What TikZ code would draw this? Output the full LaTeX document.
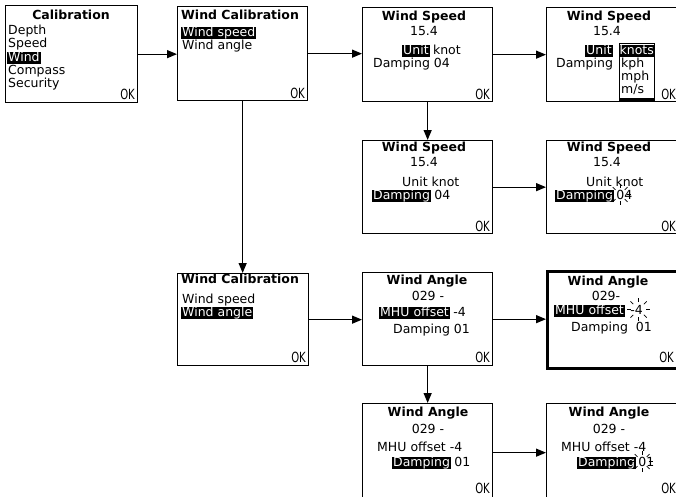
\documentclass[tikz,border=0pt]{standalone}
\usepackage{fontspec}
\setmainfont{DejaVu Sans}
\newfontfamily\okfont{DejaVu Sans}[FakeStretch=0.72]
\usetikzlibrary{arrows.meta}
\newcommand\sparkle[2]{%
  \foreach \a in {0,45,...,315} \draw[ray] (#1) ++(\a:#2) -- ++(\a:4);}
\begin{document}
\begin{tikzpicture}[x=1pt,y=-1pt,
  scr/.style={draw, line width=1.3pt, anchor=north west, inner sep=0pt},
  txt/.style={inner sep=0pt, anchor=base west, font=\fontsize{12.5}{13}\selectfont},
  ctr/.style={inner sep=0pt, anchor=base, font=\fontsize{12.5}{13}\selectfont},
  ttl/.style={inner sep=0pt, anchor=base, font=\fontsize{12.5}{13}\selectfont\bfseries},
  ttlw/.style={ttl, anchor=base west},
  hl/.style={txt, fill=black, text=white, inner xsep=1pt, inner ysep=0pt, text height=9.5pt, text depth=3pt},
  ok/.style={inner sep=0pt, anchor=base east, font=\fontsize{14}{14}\selectfont\okfont},
  arr/.style={line width=1.3pt, -{Triangle[length=10pt,width=8pt]}},
  ray/.style={line width=0.7pt}]
\useasboundingbox (0,0) rectangle (676,496);
\clip (0,0) rectangle (676,496);

% ---------- screens ----------
\node[scr, minimum width=132pt, minimum height=97pt] (b1) at (5,5) {};
\node[scr, minimum width=130pt, minimum height=94pt] (b2) at (177,6) {};
\node[scr, minimum width=130pt, minimum height=94pt] (b3) at (362,7) {};
\node[scr, minimum width=144pt, minimum height=94pt] (b4) at (546,7) {};
\node[scr, minimum width=130pt, minimum height=93pt] (b5) at (362,140) {};
\node[scr, minimum width=144pt, minimum height=93pt] (b6) at (546,140) {};
\node[scr, minimum width=131pt, minimum height=92pt] (b7) at (177,273) {};
\node[scr, minimum width=130pt, minimum height=93pt] (b8) at (362,272) {};
\node[scr, line width=2.5pt, minimum width=144pt, minimum height=97pt] (b9) at (546,270) {};
\node[scr, minimum width=130pt, minimum height=98pt] (b10) at (362,403) {};
\node[scr, minimum width=144pt, minimum height=98pt] (b11) at (546,403) {};

% ---------- box 1 ----------
\node[ttl] (t1) at (71,19) {Calibration};
\node[txt] (l11) at (8,34.5) {Depth};
\node[txt] (l12) at (8,47.5) {Speed};
\node[hl]  (l13) at (7,61) {Wind};
\node[txt] (l14) at (8,74) {Compass};
\node[txt] (l15) at (8,87) {Security};
\node[ok]  (o1) at (135,99) {OK};

% ---------- box 2 ----------
\node[ttlw] (t2) at (181,19) {Wind Calibration};
\node[hl]  (l21) at (181,36) {Wind speed};
\node[txt] (l22) at (182,49.5) {Wind angle};
\node[ok]  (o2) at (305,98) {OK};

% ---------- box 3 ----------
\node[ttl] (t3) at (424,20) {Wind Speed};
\node[ctr] (v3) at (424,35) {15.4};
\node[hl]  (u3) at (402,54) {Unit};
\node[txt] (k3) at ([xshift=3pt]u3.base east) {knot};
\node[txt] (d3) at (373,67) {Damping 04};
\node[ok]  (o3) at (490,99) {OK};

% ---------- box 4 ----------
\node[ttl] (t4) at (609,20) {Wind Speed};
\node[ctr] (v4) at (607,35) {15.4};
\node[hl]  (u4) at (585,54) {Unit};
\node[txt] (d4) at (556,67) {Damping};
\node[draw, line width=1.3pt, anchor=north west, minimum width=35pt, minimum height=55pt, inner sep=0pt] (dd) at (619,43) {};
\draw[line width=2.5pt] (dd.south west) -- (dd.south east);
\node[hl, minimum width=35pt, anchor=base west, inner xsep=0pt] (kn) at (619,54) {knots};
\node[txt] (kp) at (621,67) {kph};
\node[txt] (mp) at (621,80.5) {mph};
\node[txt] (ms) at (621,93.5) {m/s};
\node[ok]  (o4) at (676,99) {OK};

% ---------- box 5 ----------
\node[ttl] (t5) at (424,151) {Wind Speed};
\node[ctr] (v5) at (424,166) {15.4};
\node[txt] (u5) at (402,186) {Unit knot};
\node[hl]  (h5) at (372,199) {Damping};
\node[txt] (d5) at ([xshift=3pt]h5.base east) {04};
\node[ok]  (o5) at (490,231) {OK};

% ---------- box 6 ----------
\node[ttl] (t6) at (609,151) {Wind Speed};
\node[ctr] (v6) at (607,166) {15.4};
\node[txt] (u6) at (586,186) {Unit knot};
\node[hl]  (h6) at (555,199) {Damping};
\node[txt] (d6) at ([xshift=2pt]h6.base east) {04};
\coordinate (s6) at ([xshift=4pt,yshift=4.5pt]d6.base west);
\sparkle{s6}{6.5}
\node[ok]  (o6) at (676,231) {OK};

% ---------- box 7 ----------
\node[ttlw] (t7) at (181,283) {Wind Calibration};
\node[txt] (l71) at (182,303) {Wind speed};
\node[hl]  (l72) at (181,316) {Wind angle};
\node[ok]  (o7) at (306,362) {OK};

% ---------- box 8 ----------
\node[ttl] (t8) at (427,284) {Wind Angle};
\node[ctr] (v8) at (428,300) {029 -};
\node[hl]  (h8) at (379,316) {MHU offset};
\node[txt] (m8) at ([xshift=3pt]h8.base east) {-4};
\node[txt] (d8) at (393,333) {Damping 01};
\node[ok]  (o8) at (490,362) {OK};

% ---------- box 9 ----------
\node[ttl] (t9) at (608,285) {Wind Angle};
\node[ctr] (v9) at (606,300) {029-};
\node[hl]  (h9) at (554,314) {MHU offset};
\node[txt] (m9) at ([xshift=5pt]h9.base east) {-4};
\coordinate (s9) at ([xshift=8.5pt,yshift=4.5pt]m9.base west);
\sparkle{s9}{7.5}
\node[txt] (d9) at (571,331) {Damping\ \ 01};
\node[ok]  (o9) at (674,362) {OK};

% ---------- box 10 ----------
\node[ttl] (t10) at (428,416) {Wind Angle};
\node[ctr] (v10) at (428,433) {029 -};
\node[txt] (m10) at (377,451) {MHU offset -4};
\node[hl]  (h10) at (392,466) {Damping};
\node[txt] (d10) at ([xshift=3pt]h10.base east) {01};
\node[ok]  (o10) at (490,493) {OK};

% ---------- box 11 ----------
\node[ttl] (t11) at (609,416) {Wind Angle};
\node[ctr] (v11) at (609,433) {029 -};
\node[txt] (m11) at (561,451) {MHU offset -4};
\node[hl]  (h11) at (577,466) {Damping};
\node[txt] (d11) at ([xshift=2pt]h11.base east) {01};
\coordinate (s11) at ([xshift=4pt,yshift=4.5pt]d11.base west);
\sparkle{s11}{6.5}
\node[ok]  (o11) at (676,493) {OK};

% ---------- connectors ----------
\draw[arr] (b1.east) -- (b1.east -| b2.west);
\draw[arr] (b2.east) -- (b2.east -| b3.west);
\draw[arr] (b3.east) -- (b3.east -| b4.west);
\draw[arr] (b3.south) -- (b5.north);
\draw[arr] (b5.east) -- (b5.east -| b6.west);
\draw[arr] (b2.south) -- (b2.south |- b7.north);
\draw[arr] (b7.east) -- (b7.east -| b8.west);
\draw[arr] (b8.east) -- (b8.east -| b9.west);
\draw[arr] (b8.south) -- (b10.north);
\draw[arr] (b10.east) -- (b10.east -| b11.west);
\end{tikzpicture}
\end{document}
